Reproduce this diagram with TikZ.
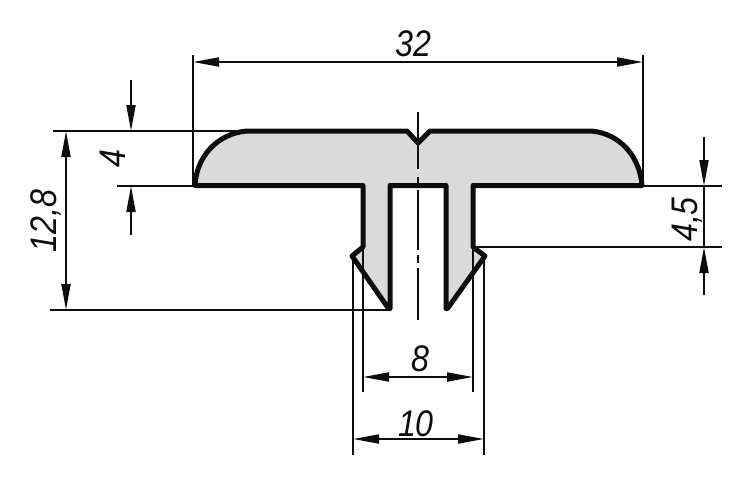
\documentclass[tikz,border=0pt]{standalone}
\usepackage{graphicx}
\usepackage{fontspec}
\setmainfont{Liberation Sans}
\usetikzlibrary{arrows.meta}
\definecolor{profile}{HTML}{DADADA}
\definecolor{ink}{HTML}{0D0D0D}
\newcommand{\dimtext}[1]{\scalebox{.87}[1]{\fontsize{37}{37}\selectfont\itshape #1}}
\tikzset{
  outline/.style={draw=ink,fill=profile,line width=5pt,line join=round,line cap=round},
  thin line/.style={draw=ink,line width=1.9pt},
  tip/.style={-{Triangle[length=26pt,width=9pt]}},
  dim both/.style={thin line,{Triangle[length=26pt,width=9pt]}-{Triangle[length=26pt,width=9pt]}},
  dim label/.style={text=ink,inner sep=0pt},
  center line/.style={draw=ink,line width=1.9pt}
}
\begin{document}
\begin{tikzpicture}[x=1pt,y=-1pt]
\useasboundingbox (0,0) rectangle (750,483);
% profile
\draw[outline] (195,185.5) .. controls (197,150) and (225,131) .. (250,131)
  -- (407,131) -- (418,143) -- (430,131) -- (588,131)
  .. controls (613,131) and (639,150) .. (642,185.5)
  -- (473,185.5) -- (473,247) -- (485,256) -- (447.5,308.5) -- (446,308.5) -- (446,185.5)
  -- (390,185.5) -- (390,308.5) -- (388.5,308.5) -- (352,256) -- (363,247) -- (363,185.5) -- cycle;
% center line
\draw[center line] (418,112) -- (418,169);
\draw[center line] (418,177) -- (418,185);
\draw[center line] (418,190) -- (418,250);
\draw[center line] (418,255) -- (418,263);
\draw[center line] (418,268) -- (418,320);
% extension lines
\draw[thin line] (193,55) -- (193,185);
\draw[thin line] (643,55) -- (643,185);
\draw[thin line] (53,131) -- (250,131);
\draw[thin line] (117,186) -- (195,186);
\draw[thin line] (50,310) -- (388,310);
\draw[thin line] (642,186) -- (722,186);
\draw[thin line] (473,247) -- (722,247);
\draw[thin line] (363,250) -- (363,392);
\draw[thin line] (473,250) -- (473,392);
\draw[thin line] (353,256) -- (353,455);
\draw[thin line] (484,256) -- (484,455);
% dimension lines
\coordinate (w1) at (193,62); \coordinate (w2) at (643,62);
\draw[dim both] (w1) -- (w2);
\coordinate (h1) at (66,131); \coordinate (h2) at (66,310);
\draw[dim both] (h1) -- (h2);
\coordinate (e1) at (363,377); \coordinate (e2) at (473,377);
\draw[dim both] (e1) -- (e2);
\coordinate (t1) at (353,439); \coordinate (t2) at (484,439);
\draw[dim both] (t1) -- (t2);
\coordinate (f1) at (131,80); \coordinate (f2) at (131,131);
\coordinate (f3) at (131,186); \coordinate (f4) at (131,235);
\draw[thin line,tip] (f1) -- (f2);
\draw[thin line,tip] (f4) -- (f3);
\coordinate (g1) at (704,137); \coordinate (g2) at (704,186);
\coordinate (g3) at (704,247); \coordinate (g4) at (704,295);
\draw[thin line,tip] (g1) -- (g2);
\draw[thin line,tip] (g4) -- (g3);
\draw[thin line] (g2) -- (g3);
% labels
\node[dim label] (l32) at (413.5,44) {\dimtext{32}};
\node[dim label,rotate=90] (l4) at (113,159) {\dimtext{4}};
\node[dim label,rotate=90] (l128) at (44,221) {\dimtext{12\smash{,}8}};
\node[dim label,rotate=90] (l45) at (684.5,219.5) {\dimtext{4\smash{,}5}};
\node[dim label] (l8) at (420,359) {\dimtext{8}};
\node[dim label] (l10) at (416,423.5) {\dimtext{10}};
\end{tikzpicture}
\end{document}
